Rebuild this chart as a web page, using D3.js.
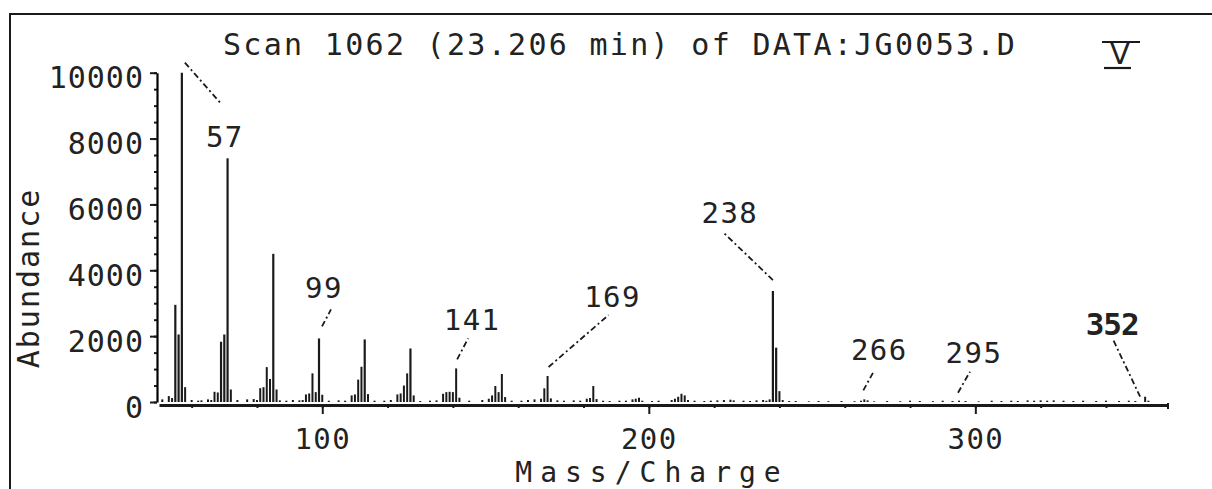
<!DOCTYPE html>
<html>
<head>
<meta charset="utf-8">
<script src="https://cdn.jsdelivr.net/npm/d3@7"></script>
<style>
  html, body { margin: 0; padding: 0; background: #fff; }
  svg { display: block; }
  text { font-family: "DejaVu Sans Mono", monospace; fill: #222; }
</style>
</head>
<body>
<div id="chart"></div>
<script>
// peaks: m/z and abundance
const mz = [51, 53, 54, 55, 56, 57, 58, 60, 62, 63, 65, 66, 67, 68, 69, 70, 71, 72, 74, 77, 79, 80,
  81, 82, 83, 84, 85, 86, 87, 89, 91, 93, 94, 95, 96, 97, 98, 99, 100, 102, 105, 107,
  109, 110, 111, 112, 113, 114, 116, 119, 121, 123, 124, 125, 126, 127, 128, 130, 133, 135,
  137, 138, 139, 140, 141, 142, 145, 149, 151, 152, 153, 154, 155, 156, 158, 161, 163, 165,
  167, 168, 169, 170, 172, 174, 177, 179, 181, 182, 183, 184, 186, 188, 191, 193, 195, 196,
  197, 198, 201, 203, 207, 208, 209, 210, 211, 212, 214, 217, 219, 221, 223, 225, 226, 229,
  231, 233, 235, 236, 237, 238, 239, 240, 241, 243, 245, 249, 252, 255, 259, 263, 265, 266,
  267, 269, 273, 277, 280, 283, 287, 290, 293, 295, 297, 301, 305, 308, 311, 313, 316, 318,
  320, 322, 324, 327, 330, 333, 337, 340, 344, 347, 349, 352, 353];
const abundance = [80, 180, 120, 2950, 2050, 10000, 450, 60, 40, 50, 80, 60, 310, 290, 1830, 2050, 7400, 380, 60, 80, 90, 60,
  420, 450, 1060, 700, 4500, 380, 50, 40, 60, 50, 60, 230, 260, 870, 300, 1930, 220, 40, 50, 40,
  200, 230, 680, 1070, 1900, 240, 40, 40, 60, 230, 260, 500, 870, 1625, 200, 30, 40, 50,
  250, 300, 310, 300, 1020, 130, 40, 60, 100, 200, 485, 300, 850, 150, 40, 40, 60, 80,
  100, 415, 790, 110, 50, 40, 50, 40, 100, 120, 485, 90, 40, 30, 40, 40, 80, 100,
  130, 40, 30, 40, 60, 100, 160, 250, 200, 60, 40, 30, 40, 50, 60, 70, 50, 40,
  30, 50, 60, 40, 80, 3370, 1650, 330, 60, 30, 30, 20, 30, 25, 30, 25, 40, 80,
  50, 20, 30, 25, 40, 30, 25, 40, 30, 40, 30, 20, 40, 30, 40, 30, 50, 40,
  50, 40, 50, 40, 30, 40, 30, 40, 30, 40, 30, 160, 40];

const labeledPeaks = [57, 99, 141, 169, 238, 266, 295, 352];
const yMajorTicks = [0, 2000, 4000, 6000, 8000, 10000];
const xMajorTicks = [100, 200, 300];
const titleText = "Scan 1062 (23.206 min) of DATA:JG0053.D";
const xTitle = "Mass/Charge";
const yTitle = "Abundance";

const peaks = mz.map((m, i) => ({ mz: m, value: abundance[i] }));

const width = 1212, height = 489;
const ink = "#1a1a1a";

const svg = d3.select("#chart").append("svg")
  .attr("width", width)
  .attr("height", height);

// frame (only top and left edges are on the page)
svg.append("path")
  .attr("d", "M10,489 L10,14 L1212,14")
  .attr("fill", "none")
  .attr("stroke", ink)
  .attr("stroke-width", 2);

const x = d3.scaleLinear().domain([50, 359]).range([159, 1168]);
const y = d3.scaleLinear().domain([0, 10000]).range([402, 72.7]);

// y axis: minor ticks every 500, labelled every 2000
const yMinor = d3.range(0, 10001, 500);
const yAxisG = svg.append("g").attr("transform", "translate(157,0)");
yAxisG.call(d3.axisLeft(y).tickValues(yMinor).tickSize(3).tickSizeOuter(0).tickFormat(""));
yAxisG.call(g => g.select(".domain").remove());
const yMajorG = svg.append("g").attr("transform", "translate(157,0)")
  .call(d3.axisLeft(y).tickValues(yMajorTicks).tickSize(7).tickSizeOuter(0).tickFormat(d3.format("d")));
yMajorG.select(".domain").attr("stroke-width", 2.2);
[yAxisG, yMajorG].forEach(g => g.selectAll(".tick line").attr("stroke", ink).attr("stroke-width", 2));
yMajorG.selectAll(".tick text")
  .attr("x", -13)
  .attr("dy", "0.5em")
  .style("font-size", "30px")
  .style("letter-spacing", "1px")
  .attr("fill", "#222");

// x axis: minor ticks every 20, longer at the hundreds
const xMinor = d3.range(60, 359, 20);
const xBase = 405;
const xAxisG = svg.append("g").attr("transform", `translate(0,${xBase})`)
  .call(d3.axisBottom(x).tickValues(xMinor).tickSize(3).tickSizeOuter(0).tickFormat(""));
xAxisG.select(".domain").attr("stroke-width", 3).attr("stroke", ink);
const xMajorG = svg.append("g").attr("transform", `translate(0,${xBase})`)
  .call(d3.axisBottom(x).tickValues(xMajorTicks).tickSize(9).tickFormat(d3.format("d")));
xMajorG.select(".domain").remove();
[xAxisG, xMajorG].forEach(g => g.selectAll(".tick line").attr("stroke", ink).attr("stroke-width", 2));
xMajorG.selectAll(".tick text")
  .attr("y", 44)
  .attr("dy", 0)
  .style("font-size", "29px")
  .style("letter-spacing", "1.4px")
  .attr("fill", "#222");

// right end of the x axis turns down a little
svg.append("line")
  .attr("x1", x.range()[1]).attr("x2", x.range()[1])
  .attr("y1", xBase - 2).attr("y2", xBase + 4)
  .attr("stroke", ink).attr("stroke-width", 2);

// peaks
svg.append("g").selectAll("line")
  .data(peaks)
  .join("line")
  .attr("x1", d => x(d.mz))
  .attr("x2", d => x(d.mz))
  .attr("y1", y(0))
  .attr("y2", d => y(d.value))
  .attr("stroke", ink)
  .attr("stroke-width", d => d.value > 1200 ? 2.2 : 2);

// peak labels with dash-dot leaders; offsets in px from the peak top
const labelLayout = {
  57:  { tx: 43,  ty: 74,  l: [3, -10, 40, 32] },
  99:  { tx: 5,   ty: -40, l: [3, -12, 12, -29] },
  141: { tx: 16,  ty: -38, l: [1, -9, 12, -30] },
  169: { tx: 65,  ty: -69, l: [1, -9, 61, -61] },
  238: { tx: -43, ty: -68, l: [0, -11, -50, -59] },
  266: { tx: 15,  ty: -39, l: [-1, -9, 10, -29] },
  295: { tx: 15,  ty: -38, l: [-1, -8, 11, -29] },
  352: { tx: -33, ty: -62, l: [-5, 0, -32, -57] }
};

const labelData = labeledPeaks.map(m => {
  const p = peaks.find(d => d.mz === m);
  return { mz: m, px: x(p.mz), py: y(p.value), lay: labelLayout[m] };
});

const ann = svg.append("g");
ann.selectAll("line")
  .data(labelData)
  .join("line")
  .attr("x1", d => d.px + d.lay.l[0])
  .attr("y1", d => d.py + d.lay.l[1])
  .attr("x2", d => d.px + d.lay.l[2])
  .attr("y2", d => d.py + d.lay.l[3])
  .attr("stroke", ink)
  .attr("stroke-width", 1.8)
  .attr("stroke-dasharray", "6 3 2 3");

ann.selectAll("text")
  .data(labelData)
  .join("text")
  .attr("x", d => d.px + d.lay.tx)
  .attr("y", d => d.py + d.lay.ty)
  .attr("text-anchor", "middle")
  .style("font-size", d => d.mz === 352 ? "31px" : "29px")
  .style("font-weight", d => d.mz === 352 ? "bold" : "normal")
  .style("letter-spacing", d => d.mz === 352 ? "-1px" : "1.5px")
  .text(d => d.mz);

// title
svg.append("text")
  .attr("x", 223)
  .attr("y", 55)
  .style("font-size", "30px")
  .style("letter-spacing", "2.3px")
  .text(titleText);

// roman numeral mark in the corner
const mark = svg.append("g");
mark.append("text")
  .attr("x", 1120)
  .attr("y", 64)
  .attr("text-anchor", "middle")
  .style("font-size", "29px")
  .style("font-family", "DejaVu Sans")
  .text("V");
mark.append("line").attr("x1", 1102).attr("x2", 1140).attr("y1", 42).attr("y2", 42)
  .attr("stroke", ink).attr("stroke-width", 2.2);
mark.append("line").attr("x1", 1104).attr("x2", 1131).attr("y1", 68).attr("y2", 68)
  .attr("stroke", ink).attr("stroke-width", 2.2);

// axis titles
svg.append("text")
  .attr("x", 652)
  .attr("y", 482)
  .attr("text-anchor", "middle")
  .style("font-size", "28px")
  .style("letter-spacing", "8px")
  .text(xTitle);

svg.append("text")
  .attr("transform", "translate(39,278) rotate(-90)")
  .attr("text-anchor", "middle")
  .style("font-size", "30px")
  .style("letter-spacing", "2px")
  .text(yTitle);
</script>
</body>
</html>
